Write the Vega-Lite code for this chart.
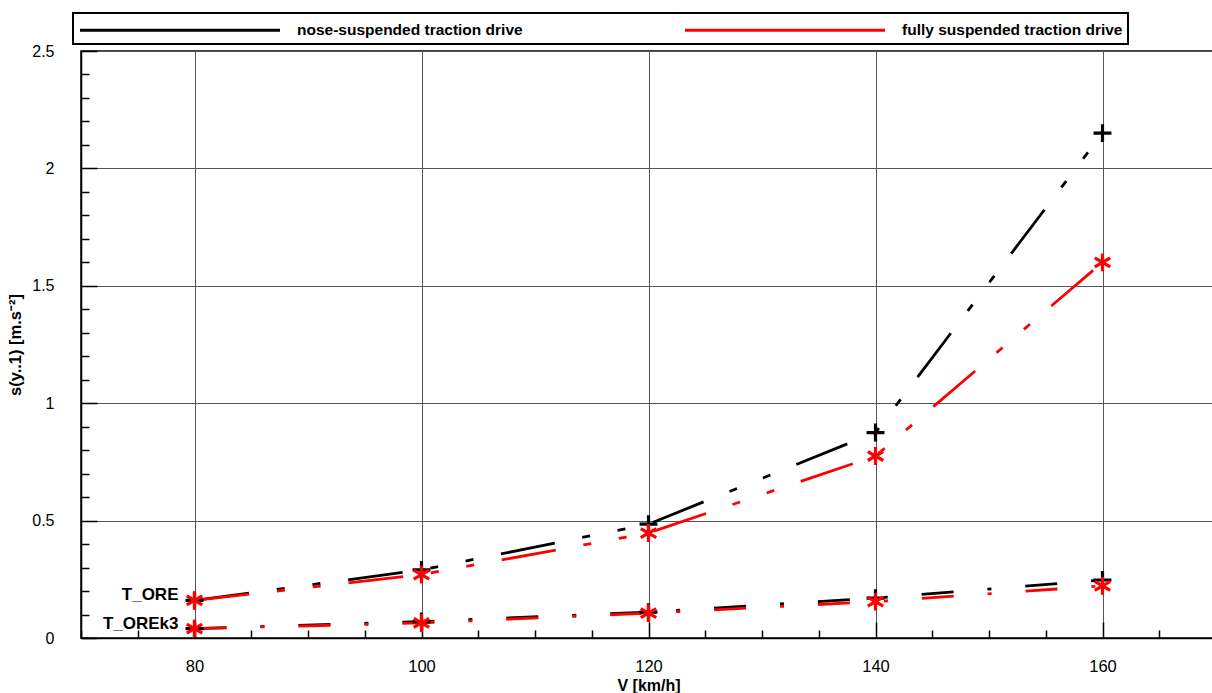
{
  "$schema": "https://vega.github.io/schema/vega-lite/v6.json",
  "width": 1135,
  "height": 587,
  "autosize": "none",
  "padding": {"left": 81, "top": 51, "right": 0, "bottom": 55},
  "background": "white",
  "config": {
    "font": "Liberation Sans",
    "view": {"stroke": "black", "strokeWidth": 1.5},
    "legend": {"strokeWidth": 2}
  },
  "data": {
    "values": [
      {"drive": "nose-suspended traction drive", "case": "T_ORE", "V": 80, "s": 0.16},
      {"drive": "nose-suspended traction drive", "case": "T_ORE", "V": 100, "s": 0.29},
      {"drive": "nose-suspended traction drive", "case": "T_ORE", "V": 120, "s": 0.485},
      {"drive": "nose-suspended traction drive", "case": "T_ORE", "V": 140, "s": 0.875},
      {"drive": "nose-suspended traction drive", "case": "T_ORE", "V": 160, "s": 2.15},
      {"drive": "nose-suspended traction drive", "case": "T_OREk3", "V": 80, "s": 0.04},
      {"drive": "nose-suspended traction drive", "case": "T_OREk3", "V": 100, "s": 0.07},
      {"drive": "nose-suspended traction drive", "case": "T_OREk3", "V": 120, "s": 0.11},
      {"drive": "nose-suspended traction drive", "case": "T_OREk3", "V": 140, "s": 0.17},
      {"drive": "nose-suspended traction drive", "case": "T_OREk3", "V": 160, "s": 0.247},
      {"drive": "fully suspended traction drive", "case": "T_ORE", "V": 80, "s": 0.16},
      {"drive": "fully suspended traction drive", "case": "T_ORE", "V": 100, "s": 0.27},
      {"drive": "fully suspended traction drive", "case": "T_ORE", "V": 120, "s": 0.447},
      {"drive": "fully suspended traction drive", "case": "T_ORE", "V": 140, "s": 0.775},
      {"drive": "fully suspended traction drive", "case": "T_ORE", "V": 160, "s": 1.6},
      {"drive": "fully suspended traction drive", "case": "T_OREk3", "V": 80, "s": 0.04},
      {"drive": "fully suspended traction drive", "case": "T_OREk3", "V": 100, "s": 0.064},
      {"drive": "fully suspended traction drive", "case": "T_OREk3", "V": 120, "s": 0.106},
      {"drive": "fully suspended traction drive", "case": "T_OREk3", "V": 140, "s": 0.155},
      {"drive": "fully suspended traction drive", "case": "T_OREk3", "V": 160, "s": 0.222}
    ]
  },
  "encoding": {
    "x": {
      "field": "V",
      "type": "quantitative",
      "scale": {"domain": [70, 170], "nice": false, "zero": false},
      "axis": {
        "title": "V [km/h]",
        "titleFontSize": 16,
        "titleFontWeight": "bold",
        "titleColor": "black",
        "titleY": 47,
        "titleBaseline": "middle",
        "values": [70, 75, 80, 85, 90, 95, 100, 105, 110, 115, 120, 125, 130, 135, 140, 145, 150, 155, 160, 165, 170],
        "labelExpr": "(datum.value % 20 === 0 && datum.value >= 80 && datum.value <= 160) ? datum.label : ''",
        "labelOverlap": false,
        "labelFlush": false,
        "labelBound": false,
        "labelFontSize": 16.5,
        "labelColor": "black",
        "labelPadding": 36,
        "tickColor": "black",
        "tickWidth": 1.5,
        "tickSize": {"condition": {"test": "datum.value % 20 === 0", "value": -16}, "value": -8},
        "domainColor": "black",
        "domainWidth": 1.5,
        "grid": true,
        "gridColor": "#555555",
        "gridWidth": 1,
        "gridOpacity": {"condition": {"test": "datum.value % 20 === 0 && datum.value >= 80 && datum.value <= 160", "value": 1}, "value": 0}
      }
    },
    "y": {
      "field": "s",
      "type": "quantitative",
      "scale": {"domain": [0, 2.5], "nice": false},
      "axis": {
        "title": "s(y..1) [m.s⁻²]",
        "titleFontSize": 16.5,
        "titleFontWeight": "bold",
        "titleColor": "black",
        "titlePadding": 8,
        "format": "~g",
        "values": [0, 0.1, 0.2, 0.3, 0.4, 0.5, 0.6, 0.7, 0.8, 0.9, 1, 1.1, 1.2, 1.3, 1.4, 1.5, 1.6, 1.7, 1.8, 1.9, 2, 2.1, 2.2, 2.3, 2.4, 2.5],
        "labelExpr": "indexof([0, 0.5, 1, 1.5, 2, 2.5], datum.value) >= 0 ? datum.label : ''",
        "labelOverlap": false,
        "labelFlush": false,
        "labelBound": false,
        "labelFontSize": 16,
        "labelColor": "black",
        "labelPadding": 43,
        "tickColor": "black",
        "tickWidth": 1.5,
        "tickSize": {"condition": {"test": "indexof([0, 0.5, 1, 1.5, 2, 2.5], datum.value) >= 0", "value": -16}, "value": -8},
        "domainColor": "black",
        "domainWidth": 1.5,
        "grid": true,
        "gridColor": "#555555",
        "gridWidth": 1,
        "gridOpacity": {"condition": {"test": "indexof([0.5, 1, 1.5, 2, 2.5], datum.value) >= 0", "value": 1}, "value": 0}
      }
    }
  },
  "layer": [
    {
      "mark": {"type": "line", "strokeWidth": 2.8},
      "encoding": {
        "color": {
          "field": "drive",
          "type": "nominal",
          "scale": {"domain": ["nose-suspended traction drive", "fully suspended traction drive"], "range": ["#000000", "#ff0000"]},
          "legend": {
            "title": null,
            "orient": "none",
            "legendX": -8,
            "legendY": -38,
            "direction": "horizontal",
            "symbolType": "M-1,0L19,0",
            "symbolSize": 400,
            "symbolStrokeWidth": 3.2,
            "labelFontSize": 15.5,
            "labelFontWeight": "bold",
            "labelColor": "black",
            "labelOffset": 195,
            "labelLimit": 0,
            "columnPadding": 155,
            "strokeColor": "black",
            "fillColor": "white",
            "padding": 5
          }
        },
        "strokeDash": {
          "field": "case",
          "type": "nominal",
          "scale": {"domain": ["T_ORE", "T_OREk3"], "range": [[55, 28, 8, 28, 8, 28], [32, 34, 4, 34]]},
          "legend": null
        }
      }
    },
    {
      "transform": [{"filter": "datum.drive === 'nose-suspended traction drive'"}],
      "mark": {"type": "point", "filled": false, "strokeWidth": 3.2, "size": 320, "opacity": 1, "stroke": "#000000", "shape": "M-1,0L1,0M0,-1L0,1"},
      "encoding": {}
    },
    {
      "transform": [{"filter": "datum.drive === 'fully suspended traction drive'"}],
      "mark": {"type": "point", "filled": false, "strokeWidth": 3.2, "size": 320, "opacity": 1, "stroke": "#ff0000", "shape": "M0,-1L0,1M-0.866,-0.5L0.866,0.5M-0.866,0.5L0.866,-0.5"},
      "encoding": {}
    },
    {
      "transform": [{"filter": "datum.V === 80 && datum.drive === 'nose-suspended traction drive'"}],
      "mark": {"type": "text", "align": "right", "baseline": "middle", "dx": -16, "dy": -5, "fontSize": 17, "fontWeight": "bold", "color": "black"},
      "encoding": {
        "text": {"field": "case"}
      }
    }
  ]
}
